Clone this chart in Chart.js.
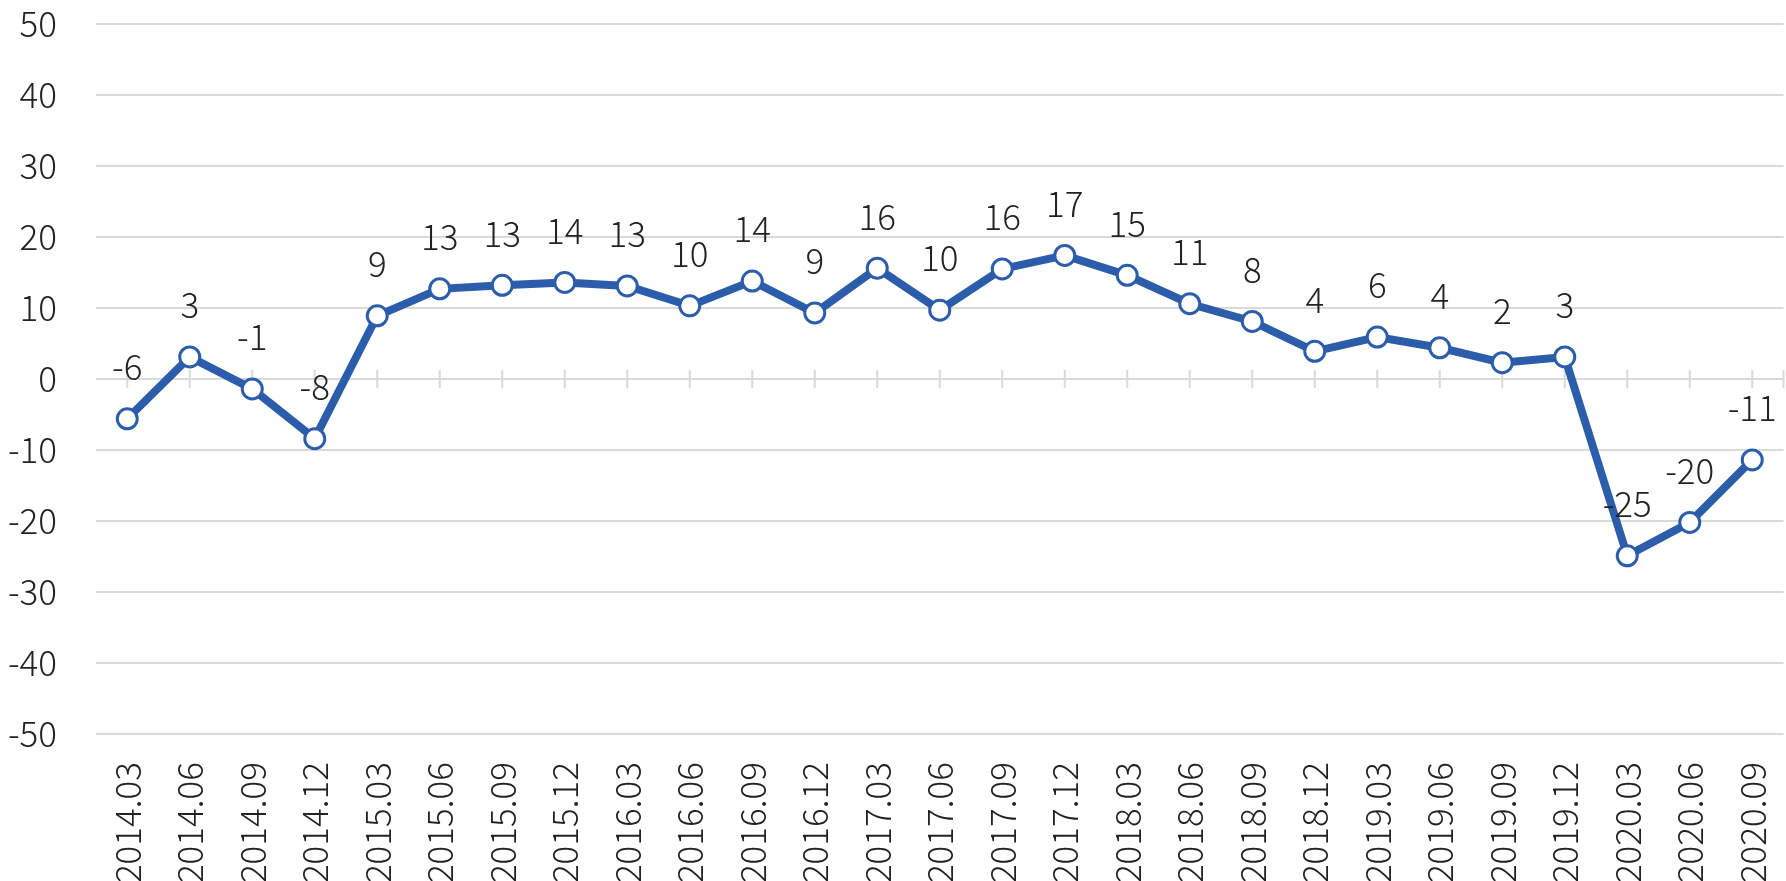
<!DOCTYPE html>
<html>
<head>
<meta charset="utf-8">
<script src="https://cdn.jsdelivr.net/npm/chart.js@4/dist/chart.umd.min.js"></script>
<style>
  html, body { margin: 0; padding: 0; background: #fff; overflow: hidden; }
  #wrap { width: 1786px; height: 881px; }
  canvas { display: block; }
</style>
</head>
<body>
<div id="wrap"><canvas id="trendChart"></canvas></div>
<script>
// quarters on the x axis
const quarters = [
    '2014.03', '2014.06', '2014.09', '2014.12',
    '2015.03', '2015.06', '2015.09', '2015.12',
    '2016.03', '2016.06', '2016.09', '2016.12',
    '2017.03', '2017.06', '2017.09', '2017.12',
    '2018.03', '2018.06', '2018.09', '2018.12',
    '2019.03', '2019.06', '2019.09', '2019.12',
    '2020.03', '2020.06', '2020.09'
];

// values
const values = [
    -5.6, 3.1, -1.4, -8.4,
    8.9, 12.7, 13.2, 13.6,
    13.1, 10.3, 13.8, 9.3,
    15.6, 9.7, 15.5, 17.4,
    14.6, 10.6, 8.1, 3.9,
    5.9, 4.4, 2.3, 3.1,
    -24.9, -20.2, -11.4
];

const yMin = -50, yMax = 50, yStep = 10;

const lineColor = '#2c5daa';
const gridColor = '#d9d9d9';
const textColor = '#222222';
const fontFamily = "'Noto Sans CJK SC', 'Noto Sans', sans-serif";
const fontSize = 35;

// cross tick marks on the zero line, at each category
const zeroTicks = {
    id: 'zeroTicks',
    beforeDatasetsDraw(chart) {
        const x = chart.scales.x, y = chart.scales.y;
        const y0 = y.getPixelForValue(0);
        const ctx = chart.ctx;
        ctx.save();
        ctx.strokeStyle = gridColor;
        ctx.lineWidth = 2;
        ctx.beginPath();
        const xs = quarters.map((q, i) => x.getPixelForTick(i));
        xs.push(chart.chartArea.right);
        xs.forEach(px => {
            ctx.moveTo(px, y0 - 9);
            ctx.lineTo(px, y0 + 9);
        });
        ctx.stroke();
        ctx.restore();
    }
};

// value labels above each point
const pointLabels = {
    id: 'pointLabels',
    afterDatasetsDraw(chart) {
        const ctx = chart.ctx;
        const meta = chart.getDatasetMeta(0);
        ctx.save();
        ctx.font = '300 ' + fontSize + 'px ' + fontFamily;
        ctx.fillStyle = textColor;
        ctx.textAlign = 'center';
        ctx.textBaseline = 'middle';
        meta.data.forEach((pt, i) => {
            ctx.fillText(String(Math.round(values[i])), pt.x, pt.y - 52);
        });
        ctx.restore();
    }
};

new Chart(document.getElementById('trendChart'), {
    type: 'line',
    data: {
        labels: quarters,
        datasets: [{
            data: values,
            borderColor: lineColor,
            borderWidth: 8,
            pointRadius: 10,
            pointBorderWidth: 3,
            pointBackgroundColor: '#ffffff',
            pointBorderColor: lineColor,
            tension: 0,
            clip: false
        }]
    },
    options: {
        responsive: true,
        maintainAspectRatio: false,
        animation: false,
        layout: {
            autoPadding: false,
            padding: { top: 24, right: 2.5, left: 0, bottom: 0 }
        },
        plugins: {
            legend: { display: false },
            tooltip: { enabled: false }
        },
        scales: {
            x: {
                offset: true,
                grid: { display: false, drawTicks: false },
                border: { display: false },
                ticks: {
                    autoSkip: false,
                    minRotation: 90,
                    maxRotation: 90,
                    padding: 28,
                    color: textColor,
                    font: { family: fontFamily, size: fontSize, weight: '300' }
                },
                afterFit: s => {
                    s.height = 147;
                    s.paddingLeft = 0;
                    s.paddingRight = 0;
                }
            },
            y: {
                min: yMin,
                max: yMax,
                grid: { color: gridColor, lineWidth: 2, drawTicks: false },
                border: { display: false },
                ticks: {
                    stepSize: yStep,
                    padding: 39,
                    color: textColor,
                    font: { family: fontFamily, size: fontSize, weight: '300' }
                },
                afterFit: s => {
                    s.width = 96;
                    s.paddingTop = 0;
                    s.paddingBottom = 0;
                }
            }
        }
    },
    plugins: [zeroTicks, pointLabels]
});
</script>
</body>
</html>
